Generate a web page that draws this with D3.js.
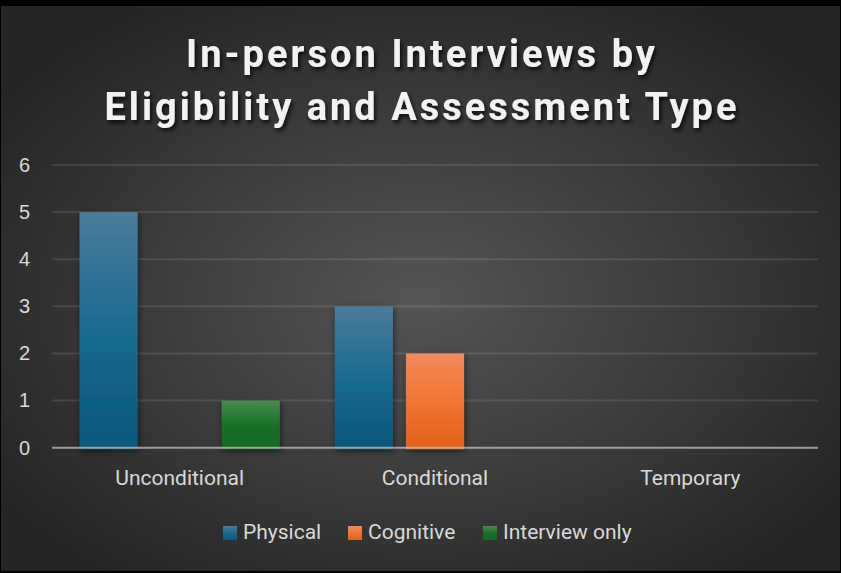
<!DOCTYPE html>
<html>
<head>
<meta charset="utf-8">
<script src="https://cdn.jsdelivr.net/npm/d3@7"></script>
<style>
  html, body { margin: 0; padding: 0; background: #000; }
  svg { display: block; }
</style>
</head>
<body>
<div id="wrapper"></div>
<script>
// data
const categories = ["Unconditional", "Conditional", "Temporary"];
const seriesNames = ["Physical", "Cognitive", "Interview only"];
const physical = [5, 3, 0];
const cognitive = [0, 2, 0];
const interviewOnly = [1, 0, 0];
const yTicks = [0, 1, 2, 3, 4, 5, 6];
const titleLines = ["In-person Interviews by", "Eligibility and Assessment Type"];

const seriesValues = [physical, cognitive, interviewOnly];
const colors = {
  "Physical": ["#4d7b9b", "#1a6a8f", "#0b577b"],
  "Cognitive": ["#ef8a5c", "#f07532", "#e35f19"],
  "Interview only": ["#4b8a53", "#1a7026", "#12661e"],
};

const width = 841;
const height = 573;
let dimensions = {
  width: width,
  height: height,
  margin: { top: 165, right: 23, bottom: 125, left: 52 },
};
dimensions.boundedWidth = width - dimensions.margin.left - dimensions.margin.right;
dimensions.boundedHeight = height - dimensions.margin.top - dimensions.margin.bottom;

const rows = [];
categories.forEach((c, i) => {
  seriesNames.forEach((s, j) => {
    rows.push({ category: c, series: s, value: seriesValues[j][i] });
  });
});

const svg = d3.select("#wrapper")
  .append("svg")
  .attr("width", width)
  .attr("height", height);

const defs = svg.append("defs");

// background gradient
const bg = defs.append("radialGradient")
  .attr("id", "bg")
  .attr("cx", "50%").attr("cy", "52%").attr("r", "62%");
bg.append("stop").attr("offset", "0%").attr("stop-color", "#555555");
bg.append("stop").attr("offset", "100%").attr("stop-color", "#242424");

seriesNames.forEach((s, i) => {
  const g = defs.append("linearGradient")
    .attr("id", "grad" + i)
    .attr("x1", 0).attr("y1", 0).attr("x2", 0).attr("y2", 1);
  g.append("stop").attr("offset", "0%").attr("stop-color", colors[s][0]);
  g.append("stop").attr("offset", "50%").attr("stop-color", colors[s][1]);
  g.append("stop").attr("offset", "100%").attr("stop-color", colors[s][2]);
});

const titleShadow = defs.append("filter").attr("id", "titleShadow")
  .attr("x", "-10%").attr("y", "-30%").attr("width", "120%").attr("height", "160%");
titleShadow.append("feDropShadow")
  .attr("dx", 2).attr("dy", 3).attr("stdDeviation", 2)
  .attr("flood-color", "#000").attr("flood-opacity", 0.75);

const barShadow = defs.append("filter").attr("id", "barShadow")
  .attr("x", "-30%").attr("y", "-10%").attr("width", "160%").attr("height", "120%");
barShadow.append("feDropShadow")
  .attr("dx", 1).attr("dy", 2).attr("stdDeviation", 3)
  .attr("flood-color", "#000").attr("flood-opacity", 0.55);

// frame
svg.append("rect")
  .attr("width", width).attr("height", height).attr("fill", "#000");
svg.append("rect")
  .attr("x", 1).attr("y", 6)
  .attr("width", width - 2).attr("height", height - 8)
  .attr("fill", "url(#bg)");

// title
const title = svg.append("g").attr("filter", "url(#titleShadow)");
title.selectAll("text")
  .data(titleLines)
  .join("text")
  .attr("x", width / 2)
  .attr("y", (d, i) => 67 + i * 53)
  .attr("text-anchor", "middle")
  .attr("font-family", "Roboto, 'Liberation Sans', sans-serif")
  .attr("font-weight", 700)
  .attr("font-size", 38)
  .attr("textLength", (d, i) => (i == 0 ? 469 : 632))
  .attr("lengthAdjust", "spacing")
  .attr("fill", "#f2f2f2")
  .text((d) => d);

// scales
const x0 = d3.scaleBand()
  .domain(categories)
  .range([dimensions.margin.left, dimensions.margin.left + dimensions.boundedWidth]);

const x1 = d3.scaleBand()
  .domain(seriesNames)
  .range([0, x0.bandwidth()])
  .paddingInner(0.183)
  .paddingOuter(0.387);

const y = d3.scaleLinear()
  .domain([0, 6])
  .range([dimensions.margin.top + dimensions.boundedHeight - 0.3, dimensions.margin.top]);

// gridlines
const grid = svg.append("g");
grid.selectAll("line")
  .data(yTicks.filter((d) => d != 0))
  .join("line")
  .attr("x1", x0.range()[0])
  .attr("x2", x0.range()[1])
  .attr("y1", (d) => y(d))
  .attr("y2", (d) => y(d))
  .attr("stroke", "#ffffff")
  .attr("stroke-opacity", 0.1)
  .attr("stroke-width", 2);

// y axis labels
const yAxis = svg.append("g")
  .attr("transform", `translate(${dimensions.margin.left}, 0)`)
  .call(d3.axisLeft(y).tickValues(yTicks).tickFormat(d3.format("d")).tickSize(0).tickPadding(22));
yAxis.select(".domain").remove();
yAxis.selectAll("text")
  .attr("font-family", "'Liberation Sans', Arial, sans-serif")
  .attr("font-size", 20)
  .attr("fill", "#d9d9d9");

// bars
const bars = svg.append("g").attr("filter", "url(#barShadow)");
bars.selectAll("rect")
  .data(rows.filter((d) => d.value > 0))
  .join("rect")
  .attr("x", (d) => x0(d.category) + x1(d.series))
  .attr("width", x1.bandwidth())
  .attr("y", (d) => y(d.value))
  .attr("height", (d) => y(0) - y(d.value) + 1.5)
  .attr("fill", (d) => "url(#grad" + seriesNames.indexOf(d.series) + ")");

// baseline
svg.append("line")
  .attr("x1", x0.range()[0])
  .attr("x2", x0.range()[1])
  .attr("y1", y(0))
  .attr("y2", y(0))
  .attr("stroke", "#bfbfbf")
  .attr("stroke-opacity", 0.75)
  .attr("stroke-width", 2);

// category labels
const xAxis = svg.append("g")
  .attr("transform", `translate(0, ${y(0)})`)
  .call(d3.axisBottom(x0).tickSize(0).tickPadding(22));
xAxis.select(".domain").remove();
xAxis.selectAll("text")
  .attr("font-family", "Roboto, 'Liberation Sans', sans-serif")
  .attr("font-size", 21)
  .attr("fill", "#d9d9d9");

// legend
const legendX = [223, 348, 483];
const legend = svg.append("g");
const items = legend.selectAll("g")
  .data(seriesNames)
  .join("g")
  .attr("transform", (d, i) => `translate(${legendX[i]}, 526)`);
items.append("rect")
  .attr("width", 14)
  .attr("height", 14)
  .attr("fill", (d, i) => "url(#grad" + i + ")");
items.append("text")
  .attr("x", 20)
  .attr("y", 13)
  .attr("font-family", "Roboto, 'Liberation Sans', sans-serif")
  .attr("font-size", 21)
  .attr("fill", "#d9d9d9")
  .text((d) => d);
</script>
</body>
</html>
